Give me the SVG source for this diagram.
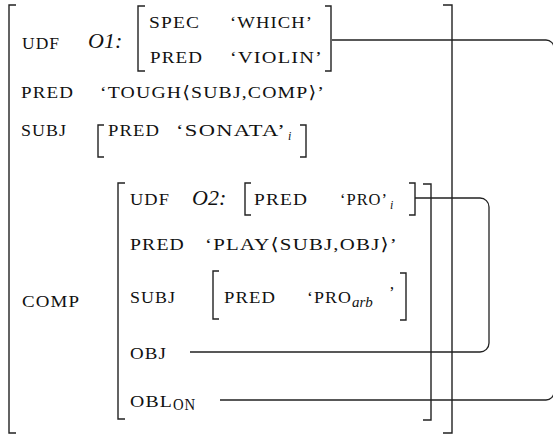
<svg xmlns="http://www.w3.org/2000/svg" width="553" height="436" viewBox="0 0 553 436">
<style>
.sc{font-family:"Liberation Serif","DejaVu Serif",serif;font-size:17px;letter-spacing:1px;fill:#111}
.it{font-family:"Liberation Serif","DejaVu Serif",serif;font-style:italic;fill:#111}
.br{fill:none;stroke:#222;stroke-width:1.4}
.cn{fill:none;stroke:#222;stroke-width:1.3}
</style>
<rect width="553" height="436" fill="#fff"/>
<g id="connectors">
<path class="cn" d="M332,40 H546 A8,8 0 0 1 554,48 V392 A8,8 0 0 1 546,400 H220"/>
<path class="cn" d="M415,198 H480 A9,9 0 0 1 489,207 V343 A9,9 0 0 1 480,352 H190"/>
</g>
<g id="outer">
<path class="br" d="M16,5 H9 V433 H16"/>
<path class="br" d="M443,5 H452 V433 H443"/>
<text class="sc" x="22" y="49" textLength="38" lengthAdjust="spacingAndGlyphs">UDF</text>
<text class="sc" x="21" y="98" textLength="53" lengthAdjust="spacingAndGlyphs">PRED</text>
<text class="sc" x="100" y="98" textLength="225" lengthAdjust="spacingAndGlyphs">‘TOUGH⟨SUBJ,COMP⟩’</text>
<text class="sc" x="21" y="136" textLength="46" lengthAdjust="spacingAndGlyphs">SUBJ</text>
<text class="sc" x="22" y="307" textLength="58" lengthAdjust="spacingAndGlyphs">COMP</text>
</g>
<g id="o1">
<text class="it" x="88" y="48" font-size="22">O1:</text>
<path class="br" d="M145,6 H138 V71 H145"/>
<path class="br" d="M325,6 H331 V71 H325"/>
<text class="sc" x="149" y="28" textLength="51" lengthAdjust="spacingAndGlyphs">SPEC</text>
<text class="sc" x="230" y="28" textLength="83" lengthAdjust="spacingAndGlyphs">‘WHICH’</text>
<text class="sc" x="150" y="63" textLength="53" lengthAdjust="spacingAndGlyphs">PRED</text>
<text class="sc" x="230" y="63" textLength="93" lengthAdjust="spacingAndGlyphs">‘VIOLIN’</text>
</g>
<g id="sonata">
<path class="br" d="M104,125 H98 V157 H104"/>
<path class="br" d="M300,125 H306 V157 H300"/>
<text class="sc" x="108" y="136" textLength="52" lengthAdjust="spacingAndGlyphs">PRED</text>
<text class="sc" x="176" y="136" textLength="110" lengthAdjust="spacingAndGlyphs">‘SONATA’</text>
<text class="it" x="288" y="140" font-size="12">i</text>
</g>
<g id="comp">
<path class="br" d="M125,183 H118 V419 H125"/>
<path class="br" d="M423,184 H431 V420 H423"/>
<text class="sc" x="130" y="205" textLength="40" lengthAdjust="spacingAndGlyphs">UDF</text>
<text class="sc" x="130" y="250" textLength="55" lengthAdjust="spacingAndGlyphs">PRED</text>
<text class="sc" x="205" y="250" textLength="193" lengthAdjust="spacingAndGlyphs">‘PLAY⟨SUBJ,OBJ⟩’</text>
<text class="sc" x="130" y="303" textLength="46" lengthAdjust="spacingAndGlyphs">SUBJ</text>
<text class="sc" x="130" y="359" textLength="37" lengthAdjust="spacingAndGlyphs">OBJ</text>
<text class="sc" x="130" y="407" textLength="43" lengthAdjust="spacingAndGlyphs">OBL</text>
<text class="sc" x="173" y="410" font-size="12.5" textLength="23" lengthAdjust="spacingAndGlyphs">ON</text>
</g>
<g id="o2">
<text class="it" x="192" y="205" font-size="22">O2:</text>
<path class="br" d="M251,183 H245 V215 H251"/>
<path class="br" d="M409,183 H415 V215 H409"/>
<text class="sc" x="254" y="205" textLength="54" lengthAdjust="spacingAndGlyphs">PRED</text>
<text class="sc" x="340" y="205" textLength="48" lengthAdjust="spacingAndGlyphs">‘PRO’</text>
<text class="it" x="390" y="209" font-size="12">i</text>
</g>
<g id="proarb">
<path class="br" d="M219,271 H213 V319 H219"/>
<path class="br" d="M400,273 H406 V320 H400"/>
<text class="sc" x="224" y="303" textLength="52" lengthAdjust="spacingAndGlyphs">PRED</text>
<text class="sc" x="307" y="303" textLength="45" lengthAdjust="spacingAndGlyphs">‘PRO</text>
<text class="it" x="352" y="307" font-size="15">arb</text>
<text class="sc" x="389" y="298">’</text>
</g>
</svg>
